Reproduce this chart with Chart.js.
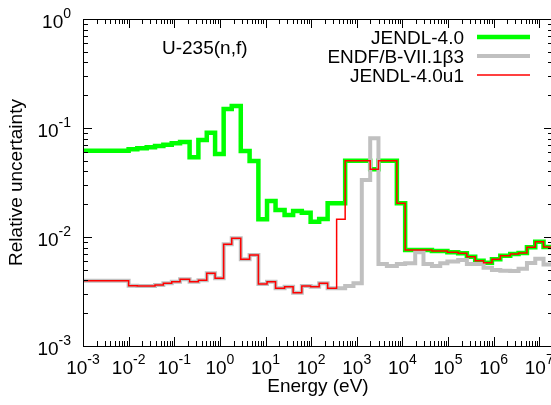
<!DOCTYPE html>
<html>
<head>
<meta charset="utf-8">
<script src="https://cdn.jsdelivr.net/npm/chart.js@4.4.1/dist/chart.umd.min.js"></script>
<style>
html, body { margin: 0; padding: 0; background: #fff; overflow: hidden; }
#wrap { position: relative; width: 560px; height: 405px; }
</style>
</head>
<body>
<div id="wrap"><canvas id="plot"></canvas></div>
<script>
// group boundaries (eV), 50 groups
var energy = [1e-5, 0.01, 0.0155, 0.0249, 0.0379, 0.0577, 0.0881, 0.134, 0.217, 0.338,
    0.516, 0.785, 1.21, 1.82, 2.87, 4.48, 6.98, 10.8, 16.6, 26.2,
    40.3, 62.5, 97.5, 150, 230, 362, 557, 847, 1290, 1970,
    2990, 4570, 7570, 11500, 19100, 29000, 44400, 67500, 97000, 167000,
    259000, 394000, 601000, 918000, 1.40e6, 2.31e6, 3.52e6, 5.37e6, 8.17e6, 1.24e7, 2e7];

var jendl40 = [0.0619, 0.0638, 0.0651, 0.0665, 0.0684, 0.0703, 0.0724, 0.0744, 0.0538, 0.0776,
    0.0906, 0.0577, 0.149, 0.159, 0.0615, 0.0498, 0.01453, 0.0214, 0.0177, 0.0159,
    0.0173, 0.0167, 0.0138, 0.0146, 0.0204, 0.0204, 0.0501, 0.0501, 0.0501, 0.0418,
    0.0501, 0.0501, 0.0204, 0.0076, 0.0076, 0.0076, 0.00745, 0.00745, 0.00724, 0.00709,
    0.00659, 0.00606, 0.00581, 0.00624, 0.00673, 0.00698, 0.00713, 0.00805, 0.00906, 0.0081];

var endfb71 = [0.00397, 0.00357, 0.00355, 0.00355, 0.00362, 0.00376, 0.00389, 0.00409, 0.00389, 0.00401,
    0.00465, 0.00418, 0.00857, 0.00973, 0.00624, 0.00684, 0.00371, 0.00389, 0.00338, 0.00350,
    0.00308, 0.00355, 0.00350, 0.00376, 0.00338, 0.00338, 0.00356, 0.00376, 0.0333, 0.0805,
    0.00565, 0.00543, 0.00565, 0.00575, 0.00724, 0.00565, 0.00543, 0.00575, 0.00597, 0.00615,
    0.00565, 0.00565, 0.00523, 0.00498, 0.0049, 0.00487, 0.0051, 0.00577, 0.0063, 0.0056];

var jendl40u1 = [0.00397, 0.00357, 0.00355, 0.00355, 0.00362, 0.00376, 0.00389, 0.00409, 0.00389, 0.00401,
    0.00465, 0.00418, 0.00857, 0.00973, 0.00624, 0.00684, 0.00371, 0.00389, 0.00338, 0.00350,
    0.00308, 0.00355, 0.00350, 0.00376, 0.00338, 0.01453, 0.0501, 0.0501, 0.0501, 0.0418,
    0.0501, 0.0501, 0.0204, 0.0076, 0.0076, 0.0076, 0.00745, 0.00745, 0.00724, 0.00709,
    0.00659, 0.00606, 0.00581, 0.00624, 0.00673, 0.00698, 0.00713, 0.00805, 0.00906, 0.0081];

var xDecades = [-3, -2, -1, 0, 1, 2, 3, 4, 5, 6, 7];
var yDecades = [-3, -2, -1, 0];

var FONT = '"Liberation Sans", Arial, Helvetica, sans-serif';

function steps(vals) {
    var pts = vals.map(function(v, i) { return {x: energy[i], y: v}; });
    pts.push({x: energy[vals.length], y: vals[vals.length - 1]});
    return pts;
}

function pow10(ctx, e, x, y, align) {
    var base = '10', sup = String(e);
    ctx.font = '19px ' + FONT;
    var wb = ctx.measureText(base).width;
    ctx.font = '14px ' + FONT;
    var ws = ctx.measureText(sup).width;
    var x0 = align === 'right' ? x - wb - ws : x - (wb + ws) / 2;
    ctx.textAlign = 'left';
    ctx.textBaseline = 'alphabetic';
    ctx.font = '19px ' + FONT;
    ctx.fillText(base, x0, y);
    ctx.font = '14px ' + FONT;
    ctx.fillText(sup, x0 + wb, y - 10);
}

var gnuFrame = {
    id: 'gnuFrame',
    afterDatasetsDraw: function(chart) {
        var ctx = chart.ctx, a = chart.chartArea;
        var xs = chart.scales.x, ys = chart.scales.y;
        ctx.save();
        ctx.strokeStyle = '#000';
        ctx.fillStyle = '#000';
        ctx.lineWidth = 1;
        ctx.strokeRect(Math.round(a.left) + 0.5, Math.round(a.top) + 0.5,
            Math.round(a.right - a.left), Math.round(a.bottom - a.top));

        ctx.beginPath();
        xDecades.forEach(function(d, i) {
            for (var m = 1; m < 10; m++) {
                var v = m * Math.pow(10, d);
                if (v > xs.max) break;
                var px = Math.round(xs.getPixelForValue(v)) + 0.5;
                var len = m === 1 ? 9 : 5;
                ctx.moveTo(px, a.bottom); ctx.lineTo(px, a.bottom - len);
                ctx.moveTo(px, a.top); ctx.lineTo(px, a.top + len);
            }
        });
        yDecades.forEach(function(d) {
            for (var m = 1; m < 10; m++) {
                var v = m * Math.pow(10, d);
                if (v > ys.max) break;
                var py = Math.round(ys.getPixelForValue(v)) + 0.5;
                var len = m === 1 ? 9 : 5;
                ctx.moveTo(a.left, py); ctx.lineTo(a.left + len, py);
                ctx.moveTo(a.right, py); ctx.lineTo(a.right - len, py);
            }
        });
        ctx.stroke();

        xDecades.forEach(function(d) {
            pow10(ctx, d, xs.getPixelForValue(Math.pow(10, d)), a.bottom + 27.5, 'center');
        });
        yDecades.forEach(function(d) {
            pow10(ctx, d, 71, ys.getPixelForValue(Math.pow(10, d)) + 9, 'right');
        });

        ctx.font = '19px ' + FONT;
        ctx.textAlign = 'center';
        ctx.textBaseline = 'alphabetic';
        ctx.fillText('Energy (eV)', (a.left + a.right) / 2, 392);
        ctx.save();
        ctx.translate(17, (a.top + a.bottom) / 2);
        ctx.rotate(-Math.PI / 2);
        ctx.textBaseline = 'middle';
        ctx.fillText('Relative uncertainty', 0, 0);
        ctx.restore();

        ctx.textAlign = 'left';
        ctx.fillText('U-235(n,f)', 162, 54);

        // key: text then sample
        chart.data.datasets.forEach(function(ds, i) {
            var cy = 37 + i * 19;
            ctx.textAlign = 'right';
            ctx.fillStyle = '#000';
            ctx.fillText(ds.label, 464, cy + 7);
            ctx.beginPath();
            ctx.strokeStyle = ds.borderColor;
            ctx.lineWidth = ds.borderWidth;
            ctx.moveTo(477, cy); ctx.lineTo(530, cy);
            ctx.stroke();
        });
        ctx.restore();
    }
};

new Chart(document.getElementById('plot').getContext('2d'), {
    type: 'line',
    data: {
        datasets: [
            {label: 'JENDL-4.0', data: steps(jendl40), borderColor: '#00ff00', borderWidth: 4.5, order: 3},
            {label: 'ENDF/B-VII.1\u03b23', data: steps(endfb71), borderColor: '#c0c0c0', borderWidth: 4, order: 2},
            {label: 'JENDL-4.0u1', data: steps(jendl40u1), borderColor: '#ff0000', borderWidth: 1.5, order: 1}
        ]
    },
    options: {
        responsive: true,
        maintainAspectRatio: false,
        animation: false,
        layout: {padding: {left: 0, top: 19, right: 7, bottom: 0}},
        elements: {
            line: {stepped: 'before', tension: 0, fill: false, borderJoinStyle: 'miter'},
            point: {radius: 0, hoverRadius: 0}
        },
        plugins: {legend: {display: false}, tooltip: {enabled: false}},
        events: [],
        scales: {
            x: {
                type: 'logarithmic', min: 1e-3, max: 2e7,
                ticks: {display: false}, grid: {display: false}, border: {display: false},
                afterFit: function(s) { s.height = 59; }
            },
            y: {
                type: 'logarithmic', min: 1e-3, max: 1,
                ticks: {display: false}, grid: {display: false}, border: {display: false},
                afterFit: function(s) { s.width = 83; }
            }
        }
    },
    plugins: [gnuFrame]
});
</script>
</body>
</html>
